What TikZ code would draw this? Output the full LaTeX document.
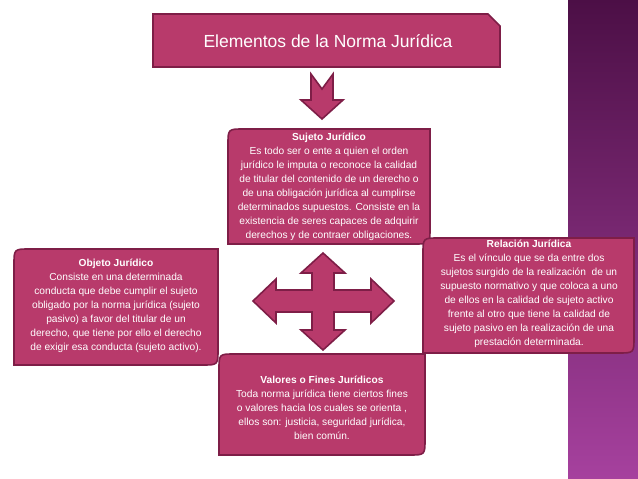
\documentclass[tikz,border=0pt]{standalone}
\usepackage{fontspec}
\setmainfont{Liberation Sans}
\definecolor{boxfill}{HTML}{B83A6B}
\definecolor{boxline}{HTML}{7E1E47}
\definecolor{stripetop}{HTML}{4C0F46}
\definecolor{stripebot}{HTML}{A6419E}
\tikzset{
  box/.style={fill=boxfill,draw=boxline,line width=1.6pt},
  txt/.style={text=white,align=center,inner sep=0pt,font=\fontsize{10.2}{14}\selectfont},
}
\newcommand{\rdbox}[4]{%
  \path[box] (#1,#4) -- (#1,#2+16) .. controls (#1,#2) .. (#1+16,#2) -- (#3,#2) -- (#3,#4-16) .. controls (#3,#4) .. (#3-16,#4) -- cycle;}
\begin{document}
\begin{tikzpicture}[x=1pt,y=-1pt]
\useasboundingbox (0,0) rectangle (638,479);
\fill[white] (0,0) rectangle (638,479);
\shade[top color=stripetop,bottom color=stripebot] (568,0) rectangle (638,479);
% title
\path[box] (153,14) -- (488,14) -- (500,26) -- (500,67) -- (153,67) -- cycle;
\node[text=white,font=\fontsize{17.5}{20}\selectfont] (title) at (328,41) {Elementos de la Norma Jurídica};
% down arrow
\path[box] (311,74) -- (322,89) -- (333,74) -- (333,100) -- (343,100) -- (322,119) -- (301,100) -- (311,100) -- cycle;
% center box
\rdbox{228}{129}{430}{244}
\node[txt] (sujeto) at (329,187) {\textbf{Sujeto Jurídico}\\Es todo ser o ente a quien el orden\\jurídico le imputa o reconoce la calidad\\de titular del contenido de un derecho o\\de una obligación jurídica al cumplirse\\determinados supuestos. Consiste en la\\existencia de seres capaces de adquirir\\derechos y de contraer obligaciones.};
% cross arrow
\path[box] (323,253) -- (345,273) -- (334,273) -- (334,290) -- (371,290) -- (371,279) -- (394,301) -- (371,323) -- (371,312) -- (334,312) -- (334,330) -- (345,330) -- (323,350) -- (301,330) -- (312,330) -- (312,312) -- (276,312) -- (276,323) -- (253,301) -- (276,279) -- (276,290) -- (312,290) -- (312,273) -- (301,273) -- cycle;
% left box
\rdbox{14}{249}{218}{365}
\node[txt] (objeto) at (116,306) {\textbf{Objeto Jurídico}\\Consiste en una determinada\\conducta que debe cumplir el sujeto\\obligado por la norma jurídica (sujeto\\pasivo) a favor del titular de un\\derecho, que tiene por ello el derecho\\de exigir esa conducta (sujeto activo).};
% right box
\rdbox{423}{238}{634}{353}
\node[txt] (relacion) at (529,294) {\textbf{Relación Jurídica}\\Es el vínculo que se da entre dos\\sujetos surgido de la realización\ \ de un\\supuesto normativo y que coloca a uno\\de ellos en la calidad de sujeto activo\\frente al otro que tiene la calidad de\\sujeto pasivo en la realización de una\\prestación determinada.};
% bottom box
\rdbox{219}{354}{425}{455}
\node[txt] (valores) at (322,408) {\textbf{Valores o Fines Jurídicos}\\Toda norma jurídica tiene ciertos fines\\o valores hacia los cuales se orienta ,\\ellos son: justicia, seguridad jurídica,\\bien común.};
\end{tikzpicture}
\end{document}
